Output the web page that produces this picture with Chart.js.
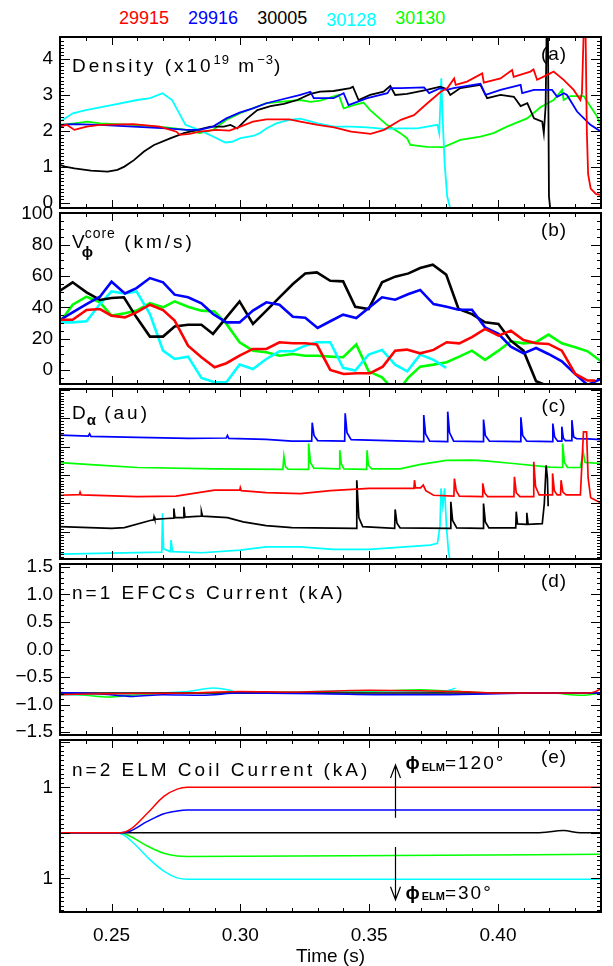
<!DOCTYPE html>
<html>
<head>
<meta charset="utf-8">
<script src="https://cdn.jsdelivr.net/npm/chart.js@4.4.1/dist/chart.umd.min.js"></script>
<style>
  body { margin: 0; background: #fff; }
  #wrap { position: relative; width: 613px; height: 966px; overflow: hidden; font-family: "Liberation Sans", Arial, sans-serif; }
  #wrap canvas { position: absolute; left: 0; }
  #legend { position: absolute; left: 119px; top: 8px; display: flex; gap: 19px; font-size: 18px; }
</style>
</head>
<body>
<div id="wrap">
  <div id="legend"></div>
</div>
<script>
// shots and colours
const shots = ['29915', '29916', '30005', '30128', '30130'];
const shotColors = ['#ff0000', '#0000ff', '#000000', '#00ffff', '#00ff00'];

// time axis
const tMin = 0.23, tMax = 0.44;
const timeTicks = [0.25, 0.30, 0.35, 0.40];

// (a) density, 1e19 m^-3
const densRed = [[0.230,2.12],[0.2326,2.17],[0.2356,2.03],[0.2403,2.12],[0.2455,2.17],[0.2584,2.19],[0.2687,2.12],[0.2752,1.98],[0.2765,1.89],[0.2803,1.92],[0.2842,1.98],[0.2907,2.03],[0.2958,2.01],[0.300,2.12],[0.3049,2.26],[0.3101,2.32],[0.319,2.32],[0.3233,2.26],[0.330,2.17],[0.3364,2.10],[0.343,1.98],[0.3506,1.92],[0.3558,2.03],[0.3623,2.31],[0.3674,2.44],[0.3726,2.77],[0.3778,3.09],[0.3804,3.19],[0.383,3.46],[0.3836,3.28],[0.388,3.37],[0.3939,3.60],[0.3945,3.34],[0.401,3.46],[0.4055,3.69],[0.4061,3.50],[0.4126,3.65],[0.4138,3.71],[0.4152,3.42],[0.4203,3.60],[0.4216,3.65],[0.4255,3.42],[0.4294,3.14],[0.432,2.86],[0.4326,3.05],[0.4333,4.8],[0.4340,4.8],[0.4345,2.0],[0.435,0.8],[0.436,0.4],[0.438,0.25],[0.440,0.22]];
const densBlue = [[0.230,2.17],[0.2352,2.19],[0.2455,2.17],[0.2584,2.12],[0.2713,2.07],[0.2791,2.03],[0.2842,2.03],[0.2894,2.12],[0.2946,2.35],[0.2997,2.51],[0.3049,2.63],[0.3101,2.77],[0.3152,2.86],[0.3233,3.0],[0.3272,3.09],[0.3285,2.91],[0.3362,2.91],[0.3401,3.05],[0.342,2.72],[0.3493,2.91],[0.3571,3.05],[0.3584,3.19],[0.3623,3.19],[0.3713,3.21],[0.3733,3.05],[0.3776,3.19],[0.3802,3.14],[0.3828,3.19],[0.3932,3.31],[0.3952,3.0],[0.401,3.14],[0.4088,3.28],[0.4094,3.05],[0.414,3.14],[0.421,3.14],[0.423,2.95],[0.4256,3.05],[0.4268,3.0],[0.4307,2.54],[0.4359,2.17],[0.440,1.98]];
const densBlack = [[0.230,1.06],[0.2319,1.01],[0.2356,0.96],[0.242,0.90],[0.2485,0.87],[0.2523,0.92],[0.255,1.01],[0.2587,1.19],[0.2626,1.43],[0.2665,1.61],[0.273,1.80],[0.2781,1.94],[0.2833,2.03],[0.2885,2.12],[0.2936,2.12],[0.2962,2.17],[0.2988,2.07],[0.3027,2.35],[0.3066,2.58],[0.3117,2.69],[0.3169,2.75],[0.3221,2.86],[0.3272,3.03],[0.331,3.09],[0.3362,3.11],[0.3427,3.19],[0.3437,3.23],[0.3459,2.86],[0.3504,3.0],[0.3556,3.09],[0.3582,3.25],[0.3601,3.0],[0.3647,3.03],[0.3724,3.14],[0.3776,3.23],[0.3802,3.16],[0.3815,3.0],[0.3854,3.19],[0.3932,3.28],[0.3958,2.91],[0.401,3.0],[0.4062,2.95],[0.4088,2.69],[0.4114,2.77],[0.414,2.35],[0.4172,2.26],[0.4178,1.94],[0.4185,2.68],[0.4189,4.8],[0.4194,4.8],[0.4198,0.18],[0.4205,-0.3]];
const densCyan = [[0.230,2.26],[0.235,2.49],[0.240,2.58],[0.250,2.72],[0.260,2.86],[0.265,2.91],[0.2698,3.05],[0.2735,2.86],[0.2787,2.17],[0.2839,2.03],[0.289,1.86],[0.2942,1.68],[0.2968,1.70],[0.300,1.80],[0.305,1.86],[0.3075,1.94],[0.3101,2.07],[0.314,2.21],[0.319,2.31],[0.3233,2.34],[0.330,2.21],[0.3364,2.12],[0.343,2.12],[0.3493,2.10],[0.3558,2.06],[0.3623,2.07],[0.3687,2.07],[0.3765,2.17],[0.3772,1.94],[0.378,3.46],[0.3785,2.4],[0.3793,1.1],[0.3803,0.18],[0.3816,-0.19]];
const densGreen = [[0.230,2.17],[0.2356,2.21],[0.2407,2.26],[0.2455,2.21],[0.2584,2.17],[0.2713,2.10],[0.2791,2.03],[0.2842,1.94],[0.2894,2.03],[0.2946,2.31],[0.2997,2.49],[0.3049,2.63],[0.3101,2.77],[0.3152,2.81],[0.3233,2.86],[0.3272,2.81],[0.331,2.84],[0.3382,3.0],[0.3401,2.63],[0.344,2.72],[0.3478,2.79],[0.3504,2.58],[0.3569,2.17],[0.3621,1.94],[0.3647,1.80],[0.366,1.61],[0.3724,1.56],[0.3789,1.55],[0.3854,1.75],[0.3932,1.84],[0.3983,1.94],[0.4035,2.12],[0.4113,2.35],[0.4165,2.66],[0.4216,2.86],[0.4249,3.14],[0.4255,2.86],[0.4281,2.97],[0.4333,2.97],[0.4359,2.68],[0.4385,2.40],[0.440,2.12]];

// (b) core toroidal velocity, km/s
const velRed = [[0.230,32.1],[0.2349,32.1],[0.2403,38.3],[0.2455,38.9],[0.250,34.7],[0.2552,33.6],[0.2597,36.8],[0.2649,41.7],[0.270,38.3],[0.2745,31.5],[0.2797,15.5],[0.2849,8.1],[0.290,1.7],[0.2946,4.3],[0.2997,9.1],[0.3049,13.4],[0.3101,13.4],[0.3152,17.7],[0.3204,17],[0.3252,17],[0.3297,16.2],[0.3349,0],[0.3401,-2.6],[0.3453,-2.1],[0.3504,-2.1],[0.3553,2.1],[0.3601,12.3],[0.3646,13],[0.3698,10.6],[0.375,12.8],[0.3801,17.7],[0.385,17],[0.3899,20.9],[0.395,26.2],[0.4002,21.9],[0.405,25.1],[0.4099,19.1],[0.4148,17],[0.4196,16.6],[0.4248,12.3],[0.430,-2.6],[0.4348,-6.8],[0.4377,-6.8]];
const velBlue = [[0.230,31.9],[0.2349,36.8],[0.2403,42.1],[0.2455,46.8],[0.250,56.4],[0.2552,48.9],[0.2597,52.3],[0.2649,58.7],[0.270,56],[0.2745,48.1],[0.2797,46.4],[0.2849,42.6],[0.2894,35.7],[0.2946,30.4],[0.2997,30.4],[0.3049,37.9],[0.3101,43.2],[0.3152,41.7],[0.3204,34],[0.3252,33.4],[0.330,26.8],[0.3349,31.1],[0.3399,35.3],[0.345,33.2],[0.3498,39.6],[0.355,46.4],[0.3601,44.9],[0.3653,48.5],[0.3698,51.1],[0.375,42.1],[0.3801,40.4],[0.3847,38.5],[0.3899,38.5],[0.395,27.2],[0.4002,23],[0.405,14.9],[0.4099,10.6],[0.4148,14],[0.4196,10.2],[0.4248,5.5],[0.430,-2.6],[0.4348,-9.6],[0.440,-5.7]];
const velBlack = [[0.230,50.6],[0.2349,56],[0.2403,49.6],[0.2455,44.7],[0.250,46],[0.2548,46.4],[0.2597,33.6],[0.2649,21.3],[0.270,21.3],[0.2745,27.7],[0.2797,28.9],[0.2849,28.9],[0.2894,23],[0.2946,33.6],[0.2997,43.8],[0.3049,29.4],[0.3101,37.9],[0.3152,46.4],[0.3204,54.9],[0.3252,61.7],[0.3297,62.3],[0.3349,57],[0.3399,56.6],[0.3446,40.4],[0.3498,38.9],[0.355,56],[0.3601,59.6],[0.3653,61.7],[0.3698,65.1],[0.3747,67.2],[0.3799,60.9],[0.3847,38.9],[0.3899,35.7],[0.395,30.4],[0.4002,29.4],[0.405,18.7],[0.4099,12.3],[0.4148,-7.2],[0.419,-10]];
const velCyan = [[0.230,30.4],[0.2349,30.4],[0.2403,31.1],[0.2455,42.1],[0.250,50.2],[0.2552,48.9],[0.2597,50.2],[0.2649,35.7],[0.270,12.3],[0.2745,7],[0.2797,8.5],[0.2849,-5.1],[0.290,-7.9],[0.2946,-7.9],[0.2997,3.4],[0.3049,0.6],[0.3101,7],[0.3152,11.9],[0.3204,11.9],[0.3252,15.5],[0.3297,17.7],[0.3349,17.7],[0.3399,1.3],[0.3446,-0.4],[0.3498,9.8],[0.355,12.8],[0.3601,3.4],[0.3648,-0.9],[0.3698,9.8],[0.375,6.4],[0.3799,1.3]];
const velGreen = [[0.230,30.4],[0.2349,41.7],[0.2403,46.8],[0.2455,43.2],[0.250,34.7],[0.2552,36.2],[0.2597,37.9],[0.2649,42.6],[0.270,40],[0.2745,43.8],[0.2797,40.4],[0.2849,37.9],[0.290,37.4],[0.2946,29.4],[0.2997,17.7],[0.3049,12.3],[0.3101,11.3],[0.3152,9.1],[0.3204,10.2],[0.3252,9.1],[0.3297,9.1],[0.3349,8.5],[0.3399,8.1],[0.345,16.2],[0.3498,-0.9],[0.355,-4.7],[0.3606,-15],[0.3653,-4.7],[0.3698,2.1],[0.375,3.4],[0.3801,4.9],[0.385,8.5],[0.3899,12.3],[0.395,6.4],[0.4002,12.3],[0.405,18.3],[0.4099,17],[0.4148,17.7],[0.4196,22.6],[0.4248,17],[0.430,14.5],[0.4348,11.9],[0.440,5.5]];

// (c) D-alpha, arbitrary units (traces offset)
const daRed = [[0.230,1.29],[0.2375,1.31],[0.2378,1.40],[0.2382,1.30],[0.260,1.24],[0.275,1.26],[0.285,1.40],[0.290,1.47],[0.2998,1.47],[0.3000,1.56],[0.3004,1.45],[0.310,1.38],[0.3233,1.35],[0.335,1.45],[0.350,1.53],[0.3674,1.53],[0.3676,1.82],[0.3680,1.55],[0.3700,1.55],[0.3710,1.65],[0.3720,1.45],[0.3750,1.29],[0.3829,1.26],[0.3831,1.88],[0.3838,1.45],[0.3850,1.26],[0.3939,1.24],[0.3941,1.71],[0.3948,1.38],[0.3960,1.24],[0.4062,1.24],[0.4064,1.94],[0.4071,1.38],[0.4085,1.24],[0.4137,1.24],[0.4139,2.47],[0.4146,1.60],[0.4160,1.30],[0.4210,1.30],[0.4212,2.06],[0.4219,1.45],[0.4230,1.30],[0.4243,1.30],[0.4245,1.82],[0.4252,1.40],[0.4265,1.30],[0.4320,1.30],[0.4332,3.53],[0.4344,3.53],[0.4350,1.90],[0.4360,1.20],[0.4400,1.02]];
const daBlue = [[0.230,3.41],[0.241,3.38],[0.2415,3.46],[0.242,3.37],[0.260,3.33],[0.280,3.30],[0.2945,3.31],[0.295,3.40],[0.2955,3.30],[0.310,3.26],[0.320,3.20],[0.3277,3.20],[0.3279,3.85],[0.3286,3.40],[0.3300,3.22],[0.3405,3.20],[0.3407,4.18],[0.3414,3.50],[0.3430,3.25],[0.3710,3.18],[0.3712,4.12],[0.3719,3.45],[0.3735,3.20],[0.3803,3.18],[0.3805,4.24],[0.3812,3.50],[0.3828,3.20],[0.3942,3.18],[0.3944,3.96],[0.3951,3.40],[0.3967,3.20],[0.4087,3.18],[0.4089,4.04],[0.4096,3.40],[0.4112,3.20],[0.4211,3.18],[0.4213,3.82],[0.4220,3.35],[0.4232,3.20],[0.4246,3.20],[0.4248,3.71],[0.4254,3.30],[0.4262,3.22],[0.4285,3.22],[0.4287,3.94],[0.4294,3.35],[0.4305,3.29],[0.4350,3.28],[0.4400,3.25]];
const daBlack = [[0.230,0.18],[0.250,0.12],[0.255,0.15],[0.265,0.40],[0.2663,0.42],[0.2665,0.53],[0.2668,0.44],[0.2715,0.47],[0.2741,0.48],[0.2742,0.82],[0.2746,0.50],[0.2780,0.50],[0.2781,0.88],[0.2785,0.52],[0.2848,0.55],[0.2849,0.71],[0.2853,0.55],[0.2950,0.50],[0.3011,0.35],[0.310,0.22],[0.320,0.15],[0.3450,0.12],[0.3452,1.82],[0.3460,0.50],[0.3475,0.18],[0.3599,0.12],[0.3601,0.79],[0.3608,0.30],[0.3620,0.14],[0.3815,0.12],[0.3817,1.06],[0.3824,0.40],[0.3840,0.14],[0.3942,0.12],[0.3944,1.00],[0.3951,0.35],[0.3965,0.14],[0.4069,0.14],[0.4071,0.71],[0.4076,0.28],[0.4110,0.26],[0.4112,0.67],[0.4117,0.26],[0.4172,0.29],[0.4180,1.0],[0.4187,2.35],[0.4192,1.9],[0.4195,0.9]];
const daCyan = [[0.230,-0.79],[0.2695,-0.72],[0.2698,0.65],[0.2702,-0.60],[0.2729,-0.70],[0.2731,-0.29],[0.2737,-0.70],[0.285,-0.74],[0.300,-0.65],[0.310,-0.53],[0.3233,-0.53],[0.336,-0.62],[0.350,-0.62],[0.3737,-0.47],[0.3765,-0.41],[0.3775,0.2],[0.3779,1.53],[0.3786,0.9],[0.3793,1.53],[0.3800,0.2],[0.3808,-0.7],[0.3814,-1.0]];
const daGreen = [[0.230,2.44],[0.245,2.35],[0.260,2.27],[0.290,2.22],[0.3165,2.20],[0.3169,2.67],[0.3175,2.30],[0.3185,2.21],[0.3263,2.20],[0.3265,3.12],[0.3272,2.45],[0.3285,2.25],[0.3384,2.22],[0.3386,2.88],[0.3392,2.40],[0.3402,2.22],[0.3490,2.20],[0.3492,2.88],[0.3497,2.35],[0.3510,2.22],[0.3620,2.22],[0.370,2.38],[0.380,2.52],[0.390,2.53],[0.395,2.50],[0.405,2.42],[0.420,2.28],[0.4249,2.27],[0.4251,3.12],[0.4258,2.45],[0.4270,2.27],[0.4320,2.27],[0.4331,2.82],[0.4338,2.45],[0.4400,2.41]];

// (d) n=1 EFCC current, kA
const efccRed = [[0.230,-0.82],[0.25,-0.80],[0.28,-0.79],[0.30,-0.76],[0.32,-0.77],[0.35,-0.74],[0.37,-0.75],[0.39,-0.77],[0.40,-0.79],[0.42,-0.79],[0.435,-0.79],[0.438,-0.76],[0.44,-0.71]];
const efccBlue = [[0.230,-0.78],[0.245,-0.80],[0.2584,-0.85],[0.27,-0.82],[0.285,-0.83],[0.30,-0.79],[0.33,-0.80],[0.36,-0.82],[0.375,-0.82],[0.40,-0.80],[0.42,-0.79],[0.44,-0.79]];
const efccBlack = [[0.230,-0.79],[0.30,-0.79],[0.37,-0.79],[0.44,-0.79]];
const efccCyan = [[0.230,-0.82],[0.26,-0.80],[0.28,-0.76],[0.2894,-0.70],[0.296,-0.74],[0.30,-0.79],[0.31,-0.78],[0.33,-0.76],[0.35,-0.75],[0.37,-0.76],[0.378,-0.77],[0.381,-0.74],[0.3835,-0.70]];
const efccGreen = [[0.230,-0.80],[0.24,-0.83],[0.2485,-0.86],[0.26,-0.82],[0.275,-0.79],[0.30,-0.78],[0.33,-0.77],[0.35,-0.76],[0.37,-0.73],[0.38,-0.75],[0.40,-0.79],[0.42,-0.79],[0.4326,-0.83],[0.44,-0.79]];

// (e) n=2 ELM coil current, kA
const elmRed = [[0.230,0],[0.2535,0],[0.2574,0.08],[0.2639,0.43],[0.2703,0.80],[0.2755,0.96],[0.2794,1.0],[0.44,1.0]];
const elmBlue = [[0.230,0],[0.2535,0],[0.2574,0.04],[0.2639,0.25],[0.2703,0.42],[0.2755,0.48],[0.2794,0.5],[0.44,0.5]];
const elmBlack = [[0.230,0],[0.415,0],[0.4255,0.05],[0.432,0],[0.44,0]];
const elmCyan = [[0.230,0],[0.2511,0],[0.2548,-0.05],[0.2597,-0.29],[0.2649,-0.59],[0.2703,-0.84],[0.2755,-0.99],[0.2794,-1.02],[0.44,-1.02]];
const elmGreen = [[0.230,0],[0.2535,0],[0.2574,-0.08],[0.2639,-0.29],[0.2703,-0.45],[0.2755,-0.51],[0.2794,-0.52],[0.36,-0.50],[0.44,-0.47]];

// phase annotations in (e): time, arrow start/end values
const phaseTime = 0.3602;
const phaseUp = [0.33, 1.49];
const phaseDown = [-0.31, -1.47];

const FONT = '"Liberation Sans", Arial, sans-serif';
Chart.defaults.font.family = FONT;
Chart.defaults.font.size = 19;
Chart.defaults.color = '#000';

const pts = arr => arr.map(([x, y]) => ({ x, y }));

function drawParts(ctx, x, y, parts, spacing) {
  let cx = x;
  for (const p of parts) {
    ctx.font = (p.bold ? 'bold ' : '') + (p.size || 19) + 'px ' + FONT;
    ctx.letterSpacing = (p.ls != null ? p.ls : spacing) + 'px';
    ctx.fillText(p.t, cx + (p.dx || 0), y + (p.dy || 0));
    if (p.adv !== false) cx += ctx.measureText(p.t).width;
  }
}

// frame, inward IDL style ticks, panel titles
const framePlugin = {
  id: 'frame',
  afterDraw(chart, args, o) {
    const { ctx, chartArea: a, scales: { x, y } } = chart;
    ctx.save();
    ctx.strokeStyle = '#000';
    ctx.fillStyle = '#000';
    ctx.lineWidth = 1;
    ctx.beginPath();
    const each = (sc, step, fn) => {
      for (let i = Math.ceil(sc.min / step - 1e-6); i * step <= sc.max + 1e-9; i++) fn(sc.getPixelForValue(i * step));
    };
    const xt = len => px => {
      px = Math.round(px) + 0.5;
      ctx.moveTo(px, a.top); ctx.lineTo(px, a.top + len);
      ctx.moveTo(px, a.bottom); ctx.lineTo(px, a.bottom - len);
    };
    const yt = len => py => {
      py = Math.round(py) + 0.5;
      ctx.moveTo(a.left, py); ctx.lineTo(a.left + len, py);
      ctx.moveTo(a.right, py); ctx.lineTo(a.right - len, py);
    };
    each(x, 0.01, xt(4));
    each(x, 0.05, xt(8));
    each(y, o.yMinor, yt(4));
    each(y, o.yMajor, yt(10));
    ctx.stroke();
    ctx.lineWidth = 2;
    ctx.strokeRect(a.left, a.top, a.right - a.left, a.bottom - a.top);

    ctx.textBaseline = 'middle';
    ctx.textAlign = 'left';
    drawParts(ctx, a.left + 12, a.top + o.titleDy, o.title, 3);
    ctx.textAlign = 'center';
    ctx.font = '19px ' + FONT;
    ctx.letterSpacing = '1px';
    ctx.fillText(o.tag, 554, a.top + 18);
    ctx.textAlign = 'left';

    if (o.arrows) {
      ctx.lineWidth = 1.2;
      const ax = Math.round(x.getPixelForValue(phaseTime)) + 0.5;
      for (const [from, to, label, ly] of o.arrows) {
        const p0 = y.getPixelForValue(from), p1 = y.getPixelForValue(to);
        const d = p1 < p0 ? 1 : -1;
        ctx.beginPath();
        ctx.moveTo(ax, p0); ctx.lineTo(ax, p1);
        ctx.moveTo(ax - 5, p1 + d * 13); ctx.lineTo(ax, p1); ctx.lineTo(ax + 5, p1 + d * 13);
        ctx.stroke();
        drawParts(ctx, ax + 10, y.getPixelForValue(ly), label, 2);
      }
    }
    ctx.restore();
  }
};

const wrap = document.getElementById('wrap');
const legend = document.getElementById('legend');
shots.forEach((s, i) => {
  const el = document.createElement('span');
  el.textContent = s;
  el.style.color = shotColors[i];
  if (s === '30128') { el.style.position = 'relative'; el.style.top = '2px'; }
  legend.appendChild(el);
});

function makePanel(p) {
  const cv = document.createElement('canvas');
  cv.width = 613;
  cv.height = p.ch;
  cv.style.top = p.ctop + 'px';
  wrap.appendChild(cv);
  return new Chart(cv, {
    type: 'line',
    data: {
      datasets: p.series.map((s, i) => ({
        data: pts(s),
        borderColor: p.colors[i],
        borderWidth: p.lw,
        pointRadius: 0,
        tension: 0,
        cubicInterpolationMode: p.smooth ? 'monotone' : 'default',
        fill: false
      }))
    },
    options: {
      responsive: false,
      animation: false,
      events: [],
      layout: { padding: { top: 20, bottom: p.showX ? 0 : 20, left: 0, right: 12 } },
      plugins: { legend: { display: false }, tooltip: { enabled: false }, frame: p.frame },
      scales: {
        x: {
          type: 'linear', min: tMin, max: tMax, display: !!p.showX,
          grid: { display: false, drawTicks: false }, border: { display: false },
          afterBuildTicks: s => { s.ticks = timeTicks.map(v => ({ value: v })); },
          ticks: { padding: 12, autoSkip: false, maxRotation: 0, callback: v => v.toFixed(2), font: { size: 19 }, color: '#000' },
          title: { display: !!p.showX, text: 'Time (s)', font: { size: 19, lineHeight: 1 }, color: '#000', padding: { top: 0, bottom: 0 } },
          afterFit: s => { if (p.showX) s.height = 54; }
        },
        y: {
          type: 'linear', min: p.ymin, max: p.ymax,
          grid: { display: false, drawTicks: false }, border: { display: false },
          afterBuildTicks: s => { s.ticks = p.yTicks.map(v => ({ value: v })); },
          ticks: { display: p.yTicks.length > 0, autoSkip: false, padding: 7, callback: p.yLabel, font: { size: 19 }, color: '#000' },
          afterFit: s => { s.width = 60; }
        }
      }
    },
    plugins: [framePlugin]
  });
}

const minus = v => String(v).replace('-', '\u2212');

makePanel({
  ctop: 17, ch: 211, lw: 1.8, colors: shotColors,
  series: [densRed, densBlue, densBlack, densCyan, densGreen],
  ymin: -0.14, ymax: 4.61, yTicks: [0, 1, 2, 3, 4], yLabel: v => String(v),
  frame: { yMajor: 1, yMinor: 0.1, titleDy: 30, tag: '(a)',
    title: [{ t: 'Density (x10' }, { t: '19', size: 13, dy: -7, ls: 1 }, { t: ' m' }, { t: '\u22123', size: 13, dy: -7, ls: 1 }, { t: ')' }] }
});

makePanel({
  ctop: 193, ch: 211, lw: 2.6, colors: shotColors,
  series: [velRed, velBlue, velBlack, velCyan, velGreen],
  ymin: -9, ymax: 100.3, yTicks: [0, 20, 40, 60, 80, 100], yLabel: v => String(v),
  frame: { yMajor: 20, yMinor: 5, titleDy: 30, tag: '(b)',
    title: [{ t: 'V', ls: 0 }, { t: '\u03d5', size: 15, bold: true, dy: 10, dx: -3, adv: false, ls: 0 }, { t: 'core', size: 14, dy: -9, ls: 1 }, { t: ' (km/s)' }] }
});

makePanel({
  ctop: 369, ch: 210, lw: 1.7, colors: shotColors,
  series: [daRed, daBlue, daBlack, daCyan, daGreen],
  ymin: -0.96, ymax: 5.04, yTicks: [], yLabel: v => '',
  frame: { yMajor: 1, yMinor: 0.1, titleDy: 25, tag: '(c)',
    title: [{ t: 'D', ls: 1 }, { t: '\u03b1', size: 15, bold: true, dy: 7, ls: 0 }, { t: ' (au)' }] }
});

makePanel({
  ctop: 544, ch: 211, lw: 1.5, colors: shotColors, smooth: true,
  series: [efccRed, efccBlue, efccBlack, efccCyan, efccGreen],
  ymin: -1.55, ymax: 1.55, yTicks: [-1.5, -1, -0.5, 0, 0.5, 1, 1.5], yLabel: v => minus(v.toFixed(1)),
  frame: { yMajor: 0.5, yMinor: 0.1, titleDy: 30, tag: '(d)',
    title: [{ t: 'n=1 EFCCs Current (kA)' }] }
});

makePanel({
  ctop: 720, ch: 246, lw: 1.5, colors: shotColors, smooth: true, showX: true,
  series: [elmRed, elmBlue, elmBlack, elmCyan, elmGreen],
  ymin: -1.74, ymax: 2.04, yTicks: [-1, 1], yLabel: v => String(Math.abs(v)),
  frame: { yMajor: 1, yMinor: 0.1, titleDy: 31, tag: '(e)',
    title: [{ t: 'n=2 ELM Coil Current (kA)' }],
    arrows: [
      [phaseUp[0], phaseUp[1], [{ t: '\u03d5', bold: true }, { t: 'ELM', size: 11, bold: true, dy: 4, ls: 0 }, { t: '=120\u00b0' }], 1.52],
      [phaseDown[0], phaseDown[1], [{ t: '\u03d5', bold: true }, { t: 'ELM', size: 11, bold: true, dy: 4, ls: 0 }, { t: '=30\u00b0' }], -1.33]
    ] }
});
</script>
</body>
</html>
